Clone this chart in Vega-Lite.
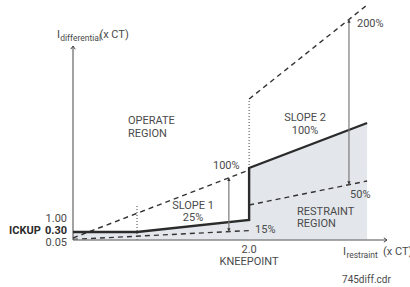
{
  "$schema": "https://vega.github.io/schema/vega-lite/v6.json",
  "width": 317,
  "height": 240,
  "autosize": {"type": "none"},
  "padding": {"left": 73, "top": 0, "right": 20, "bottom": 47},
  "background": "white",
  "config": {"view": {"stroke": null}},
  "datasets": {
    "lines": [
      {"line": "solid", "i": 0, "x": 0, "y": 0.4},
      {"line": "solid", "i": 1, "x": 0.727, "y": 0.4},
      {"line": "solid", "i": 2, "x": 2.0, "y": 1.0},
      {"line": "solid", "i": 3, "x": 2.0, "y": 3.6},
      {"line": "solid", "i": 4, "x": 3.34, "y": 5.85},
      {"line": "slope1-upper", "i": 0, "x": 0, "y": 0.1},
      {"line": "slope1-upper", "i": 1, "x": 2.0, "y": 3.5},
      {"line": "slope1-lower", "i": 0, "x": 0, "y": 0.03},
      {"line": "slope1-lower", "i": 1, "x": 2.0, "y": 0.47},
      {"line": "slope2-upper", "i": 0, "x": 2.0, "y": 7.05},
      {"line": "slope2-upper", "i": 1, "x": 3.34, "y": 11.75},
      {"line": "slope2-lower", "i": 0, "x": 2.0, "y": 1.75},
      {"line": "slope2-lower", "i": 1, "x": 3.34, "y": 2.95},
      {"line": "guide1", "i": 0, "x": 0.727, "y": 0},
      {"line": "guide1", "i": 1, "x": 0.727, "y": 1.7},
      {"line": "guide2", "i": 0, "x": 2.0, "y": 3.6},
      {"line": "guide2", "i": 1, "x": 2.0, "y": 7.05},
      {"line": "y-axis", "i": 0, "x": 0, "y": 0},
      {"line": "y-axis", "i": 1, "x": 0, "y": 9.7},
      {"line": "x-axis", "i": 0, "x": 0, "y": 0},
      {"line": "x-axis", "i": 1, "x": 3.566, "y": 0}
    ],
    "arrows": [
      {"slope": "slope 1", "x": 1.77, "y": 0.42, "y2": 3.11},
      {"slope": "slope 2", "x": 3.134, "y": 2.77, "y2": 11.03}
    ],
    "labels": [
      {"role": "region", "text": "OPERATE", "x": 0.625, "y": 5.95},
      {"role": "region", "text": "REGION", "x": 0.625, "y": 5.3},
      {"role": "region", "text": "RESTRAINT", "x": 2.544, "y": 1.42},
      {"role": "region", "text": "REGION", "x": 2.544, "y": 0.78},
      {"role": "slope", "text": "SLOPE 1", "x": 1.363, "y": 1.72},
      {"role": "slope", "text": "25%", "x": 1.363, "y": 1.1},
      {"role": "slope", "text": "SLOPE 2", "x": 2.635, "y": 6.08},
      {"role": "slope", "text": "100%", "x": 2.635, "y": 5.45},
      {"role": "pct", "text": "100%", "x": 1.59, "y": 3.7},
      {"role": "pct", "text": "15%", "x": 2.067, "y": 0.5},
      {"role": "pct", "text": "200%", "x": 3.225, "y": 10.8},
      {"role": "pct", "text": "50%", "x": 3.146, "y": 2.25},
      {"role": "knee", "text": "2.0", "x": 2.0, "y": -0.5},
      {"role": "knee", "text": "KNEEPOINT", "x": 2.0, "y": -1.1},
      {"role": "tick", "text": "1.00", "x": -0.068, "y": 1.05},
      {"role": "tick", "text": "0.05", "x": -0.068, "y": -0.15},
      {"role": "pickup", "text": "ICKUP", "x": -0.365, "y": 0.45},
      {"role": "pickup", "text": "0.30", "x": -0.068, "y": 0.45},
      {"role": "title", "text": "I", "x": -0.182, "y": 10.25},
      {"role": "sub", "text": "differential", "x": -0.145, "y": 10.1},
      {"role": "title", "text": "(x CT)", "x": 0.3, "y": 10.25},
      {"role": "title", "text": "I", "x": 3.066, "y": -0.6},
      {"role": "sub", "text": "restraint", "x": 3.105, "y": -0.75},
      {"role": "title", "text": "(x CT)", "x": 3.52, "y": -0.6},
      {"role": "file", "text": "745diff.cdr", "x": 3.055, "y": -2.0}
    ]
  },
  "encoding": {
    "x": {"field": "x", "type": "quantitative", "scale": {"domain": [0, 3.6], "nice": false, "zero": false}, "axis": null},
    "y": {"field": "y", "type": "quantitative", "scale": {"domain": [0, 12], "nice": false, "zero": false}, "axis": null}
  },
  "layer": [
    {
      "data": {"name": "lines"},
      "transform": [{"filter": "datum.line === 'solid' && datum.i <= 2"}],
      "mark": {"type": "area", "color": "#e3e6eb", "interpolate": "linear"}
    },
    {
      "data": {"name": "lines"},
      "transform": [{"filter": "datum.line === 'solid' && datum.i >= 3"}],
      "mark": {"type": "area", "color": "#e3e6eb", "interpolate": "linear"}
    },
    {
      "data": {"name": "lines"},
      "transform": [{"filter": "indexof(datum.line, 'slope') === 0"}],
      "mark": {"type": "line", "color": "#333333", "strokeWidth": 1.4, "strokeDash": [5, 4]},
      "encoding": {"detail": {"field": "line"}, "order": {"field": "i", "type": "quantitative"}}
    },
    {
      "data": {"name": "lines"},
      "transform": [{"filter": "indexof(datum.line, 'guide') === 0"}],
      "mark": {"type": "line", "color": "#444444", "strokeWidth": 1, "strokeDash": [1, 2]},
      "encoding": {"detail": {"field": "line"}, "order": {"field": "i", "type": "quantitative"}}
    },
    {
      "data": {"name": "lines"},
      "transform": [{"filter": "datum.line === 'x-axis'"}],
      "mark": {"type": "line", "color": "#8a8a8a", "strokeWidth": 1.6},
      "encoding": {"order": {"field": "i", "type": "quantitative"}}
    },
    {
      "data": {"name": "lines"},
      "transform": [{"filter": "datum.line === 'y-axis'"}],
      "mark": {"type": "line", "color": "#444444", "strokeWidth": 1},
      "encoding": {"order": {"field": "i", "type": "quantitative"}}
    },
    {
      "data": {"name": "lines"},
      "transform": [{"filter": "datum.line === 'y-axis' && datum.i === 1"}],
      "mark": {"type": "point", "shape": "M-0.7,1L0,0L0.7,1", "filled": false, "stroke": "#444444", "strokeWidth": 1, "size": 40, "opacity": 1}
    },
    {
      "data": {"name": "lines"},
      "transform": [{"filter": "datum.line === 'x-axis' && datum.i === 1"}],
      "mark": {"type": "point", "shape": "M-1,-0.7L0,0L-1,0.7", "filled": false, "stroke": "#444444", "strokeWidth": 1, "size": 40, "opacity": 1}
    },
    {
      "data": {"name": "lines"},
      "transform": [{"filter": "datum.line === 'solid'"}],
      "mark": {"type": "line", "color": "#2b2b2b", "strokeWidth": 2.4},
      "encoding": {"order": {"field": "i", "type": "quantitative"}}
    },
    {
      "data": {"name": "arrows"},
      "mark": {"type": "rule", "color": "#7a7a7a", "strokeWidth": 1.2},
      "encoding": {"y2": {"field": "y2"}}
    },
    {
      "data": {"name": "arrows"},
      "mark": {"type": "point", "shape": "M0,0L-0.55,1.1L0.55,1.1Z", "filled": true, "color": "#333333", "size": 36, "opacity": 1},
      "encoding": {"y": {"field": "y2", "type": "quantitative"}}
    },
    {
      "data": {"name": "arrows"},
      "mark": {"type": "point", "shape": "M0,0L-0.55,-1.1L0.55,-1.1Z", "filled": true, "color": "#333333", "size": 36, "opacity": 1}
    },
    {
      "data": {"name": "labels"},
      "transform": [{"filter": "datum.role === 'region' || datum.role === 'pct' || datum.role === 'title'"}],
      "mark": {"type": "text", "align": "left", "baseline": "middle", "font": "Roboto", "fontSize": 11, "color": "#4a4a4a"},
      "encoding": {"text": {"field": "text"}}
    },
    {
      "data": {"name": "labels"},
      "transform": [{"filter": "datum.role === 'sub'"}],
      "mark": {"type": "text", "align": "left", "baseline": "middle", "font": "Roboto", "fontSize": 8.5, "color": "#4a4a4a"},
      "encoding": {"text": {"field": "text"}}
    },
    {
      "data": {"name": "labels"},
      "transform": [{"filter": "datum.role === 'file'"}],
      "mark": {"type": "text", "align": "left", "baseline": "middle", "font": "Roboto", "fontSize": 10, "color": "#4a4a4a"},
      "encoding": {"text": {"field": "text"}}
    },
    {
      "data": {"name": "labels"},
      "transform": [{"filter": "datum.role === 'slope' || datum.role === 'knee'"}],
      "mark": {"type": "text", "align": "center", "baseline": "middle", "font": "Roboto", "fontSize": 11, "color": "#4a4a4a"},
      "encoding": {"text": {"field": "text"}}
    },
    {
      "data": {"name": "labels"},
      "transform": [{"filter": "datum.role === 'tick'"}],
      "mark": {"type": "text", "align": "right", "baseline": "middle", "font": "Roboto", "fontSize": 11, "color": "#4a4a4a"},
      "encoding": {"text": {"field": "text"}}
    },
    {
      "data": {"name": "labels"},
      "transform": [{"filter": "datum.role === 'pickup'"}],
      "mark": {"type": "text", "align": "right", "baseline": "middle", "font": "Roboto", "fontSize": 11, "fontWeight": "bold", "color": "#2b2b2b"},
      "encoding": {"text": {"field": "text"}}
    }
  ]
}
